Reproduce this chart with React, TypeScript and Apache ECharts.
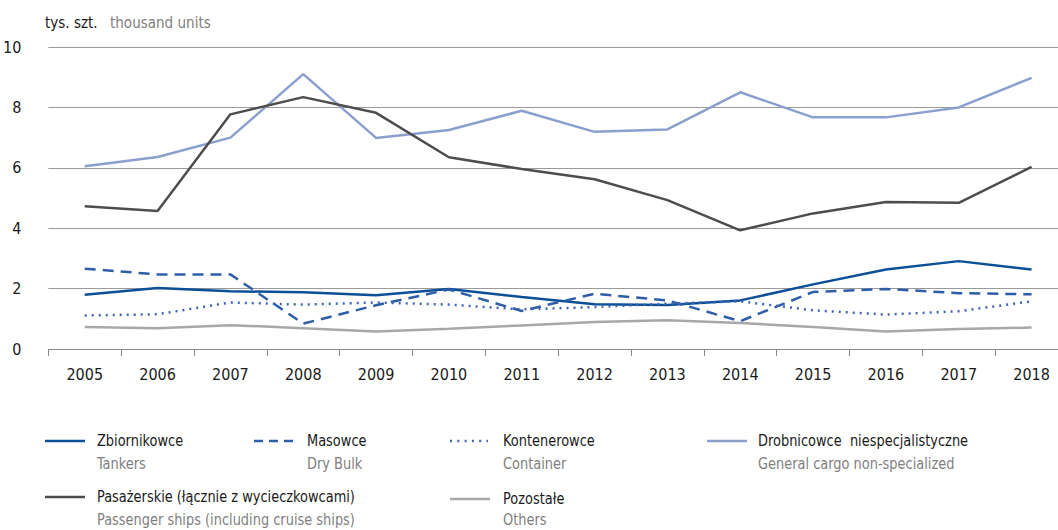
import React, { useEffect, useRef } from "react";
import * as echarts from "echarts";

const years = ["2005","2006","2007","2008","2009","2010","2011","2012","2013","2014","2015","2016","2017","2018"];
const tankers = [1.8, 2.02, 1.91, 1.88, 1.78, 1.99, 1.72, 1.48, 1.46, 1.61, 2.14, 2.63, 2.91, 2.63];
const dryBulk = [2.66, 2.47, 2.47, 0.84, 1.45, 1.97, 1.26, 1.83, 1.61, 0.92, 1.89, 1.99, 1.85, 1.81];
const container = [1.11, 1.15, 1.54, 1.47, 1.54, 1.47, 1.31, 1.39, 1.5, 1.58, 1.28, 1.14, 1.25, 1.58];
const generalCargo = [6.05, 6.36, 7.0, 9.1, 6.99, 7.25, 7.89, 7.19, 7.27, 8.5, 7.67, 7.67, 8.0, 8.98];
const passenger = [4.73, 4.57, 7.77, 8.34, 7.82, 6.35, 5.96, 5.62, 4.93, 3.93, 4.49, 4.87, 4.84, 6.03];
const others = [0.73, 0.69, 0.79, 0.69, 0.58, 0.67, 0.78, 0.89, 0.95, 0.86, 0.73, 0.58, 0.66, 0.71];

const FONT = "'DejaVu Sans Condensed', 'Liberation Sans Narrow', 'Noto Sans', sans-serif";

const seriesDefs = [
  { pl: "Zbiornikowce", en: "Tankers", data: tankers, color: "#0b4f97", dash: null as any, legendDash: null as any, ix1: 45, ix2: 85, tx: 97, ly: 441, ey: 464 },
  { pl: "Masowce", en: "Dry Bulk", data: dryBulk, color: "#2f5ea8", dash: [11, 7], legendDash: [9, 6], ix1: 254, ix2: 293, tx: 307, ly: 441, ey: 464 },
  { pl: "Kontenerowce", en: "Container", data: container, color: "#3f66b2", dash: [2, 5], legendDash: [2, 5.3], ix1: 450, ix2: 488, tx: 503, ly: 441, ey: 464 },
  { pl: "Drobnicowce  niespecjalistyczne", en: "General cargo non-specialized", data: generalCargo, color: "#8b9fcf", dash: null, legendDash: null, ix1: 707, ix2: 747, tx: 758, ly: 441, ey: 464 },
  { pl: "Pasażerskie (łącznie z wycieczkowcami)", en: "Passenger ships (including cruise ships)", data: passenger, color: "#4d4d4d", dash: null, legendDash: null, ix1: 45, ix2: 85, tx: 97, ly: 497, ey: 520 },
  { pl: "Pozostałe", en: "Others", data: others, color: "#a8a8a8", dash: null, legendDash: null, ix1: 450, ix2: 490, tx: 503, ly: 499, ey: 520 },
];

export default function App() {
  const ref = useRef<HTMLDivElement>(null);
  useEffect(() => {
    document.body.style.margin = "0";
    document.body.style.overflow = "hidden";
    document.documentElement.style.overflow = "hidden";
    const chart = echarts.init(ref.current!, undefined, { renderer: "svg" });
    const graphics: any[] = [
      { type: "text", x: 45, y: 23, scaleX: 0.94, style: { text: "tys. szt.", fill: "#1a1a1a", font: `16px ${FONT}`, verticalAlign: "middle" } },
      { type: "text", x: 110, y: 23, scaleX: 0.94, style: { text: "thousand units", fill: "#808080", font: `16px ${FONT}`, verticalAlign: "middle" } },
    ];
    seriesDefs.forEach((s) => {
      graphics.push({
        type: "line",
        shape: { x1: s.ix1, y1: s.ly, x2: s.ix2, y2: s.ly },
        style: { stroke: s.color, lineWidth: 2.5, lineDash: s.legendDash },
      });
      graphics.push({ type: "text", x: s.tx, y: s.ly, scaleX: 0.9, style: { text: s.pl, fill: "#1a1a1a", font: `16px ${FONT}`, verticalAlign: "middle" } });
      graphics.push({ type: "text", x: s.tx, y: s.ey, scaleX: 0.9, style: { text: s.en, fill: "#808080", font: `16px ${FONT}`, verticalAlign: "middle" } });
    });
    chart.setOption({
      animation: false,
      grid: { left: 46, right: 0, top: 47, bottom: 181 },
      xAxis: {
        type: "category",
        data: years,
        boundaryGap: true,
        axisLine: { lineStyle: { color: "#8a8a8a", width: 1 } },
        axisTick: { show: true, length: 7, lineStyle: { color: "#8a8a8a" } },
        axisLabel: { color: "#1a1a1a", fontFamily: FONT, fontSize: 16, margin: 17 },
      },
      yAxis: {
        type: "value",
        min: 0,
        max: 10,
        interval: 2,
        axisLine: { show: false },
        axisTick: { show: false },
        splitLine: { lineStyle: { color: "#9a9a9a", width: 1 } },
        axisLabel: { color: "#1a1a1a", fontFamily: FONT, fontSize: 16, margin: 27 },
      },
      series: seriesDefs.map((s) => ({
        name: s.pl,
        type: "line",
        data: s.data,
        symbol: "none",
        lineStyle: { color: s.color, width: 2.5, type: s.dash ? s.dash : "solid" },
        z: 3,
      })),
      graphic: graphics,
    });
    return () => chart.dispose();
  }, []);
  return <div ref={ref} style={{ width: 1068, height: 530 }} />;
}
